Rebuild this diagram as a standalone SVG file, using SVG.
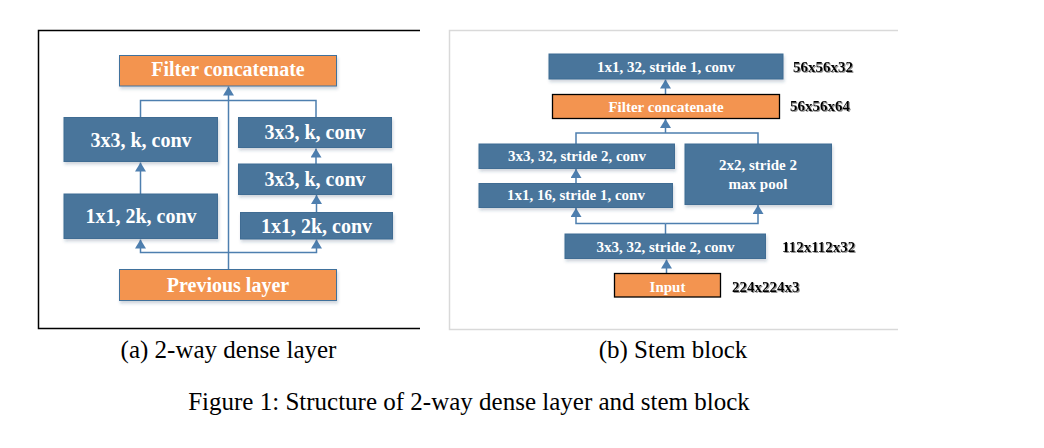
<svg xmlns="http://www.w3.org/2000/svg" width="1044" height="448" viewBox="0 0 1044 448">
<defs>
<style>
.blue{fill:#48759B;stroke:#3F6C93;stroke-width:1}
.orgA{fill:#F39450;stroke:#41719C;stroke-width:1}
.orgB{fill:#F39450;stroke:#000;stroke-width:1.3}
.bt{font-family:"Liberation Serif","Times New Roman",serif;font-weight:bold;fill:#fff;text-anchor:middle}
.l20{font-size:20px}
.s15{font-size:15px}
.lab{font-family:"Liberation Serif","Times New Roman",serif;font-weight:bold;font-size:15px;fill:#000}
.cap{font-family:"Liberation Serif","Times New Roman",serif;font-size:25px;fill:#000;text-anchor:middle}
.ln{fill:none;stroke:#4E7FAF;stroke-width:1.5}
</style>
<marker id="ah" viewBox="0 0 9 11" refX="9" refY="5.5" markerWidth="9" markerHeight="11" markerUnits="userSpaceOnUse" orient="auto">
<path d="M0,0 L9,5.5 L0,11 z" fill="#4E7FAF"/>
</marker>
<filter id="sh" x="-10%" y="-20%" width="130%" height="170%">
<feDropShadow dx="1" dy="2.5" stdDeviation="1.6" flood-color="#1F3F66" flood-opacity="0.22"/>
</filter>
<filter id="tsh" x="-10%" y="-30%" width="130%" height="170%">
<feDropShadow dx="1" dy="1" stdDeviation="0.7" flood-color="#777" flood-opacity="0.8"/>
</filter>
</defs>
<rect width="1044" height="448" fill="#fff"/>

<!-- panel frames -->
<path d="M420,30.5 H38.5 V328.5 H420" fill="none" stroke="#000" stroke-width="1.5"/>
<path d="M898,30.5 H449.5 V329.5 H898" fill="none" stroke="#D9D9D9" stroke-width="1.5"/>

<!-- connectors -->
<g id="connectors">
<line class="ln" x1="228.5" y1="269" x2="228.5" y2="86.5" marker-end="url(#ah)"/>
<path class="ln" d="M140.5,117 V100.5 H316 V117"/>
<line class="ln" x1="140.5" y1="194" x2="140.5" y2="162.5" marker-end="url(#ah)"/>
<line class="ln" x1="316" y1="164" x2="316" y2="148.5" marker-end="url(#ah)"/>
<line class="ln" x1="316.5" y1="212" x2="316.5" y2="195" marker-end="url(#ah)"/>
<path class="ln" d="M228.5,252.5 H140.5 V239.5" marker-end="url(#ah)"/>
<path class="ln" d="M228.5,252.5 H316.5 V239.5" marker-end="url(#ah)"/>

<line class="ln" x1="666.5" y1="273" x2="666.5" y2="259.5" marker-end="url(#ah)"/>
<line class="ln" x1="665.5" y1="234" x2="665.5" y2="223.5"/>
<path class="ln" d="M665.5,223.5 H576 V208" marker-end="url(#ah)"/>
<path class="ln" d="M665.5,223.5 H758 V205" marker-end="url(#ah)"/>
<line class="ln" x1="576" y1="183" x2="576" y2="169" marker-end="url(#ah)"/>
<path class="ln" d="M576,144 V133 H758 V144"/>
<line class="ln" x1="665.5" y1="133" x2="665.5" y2="119" marker-end="url(#ah)"/>
<line class="ln" x1="665.5" y1="94" x2="665.5" y2="79.5" marker-end="url(#ah)"/>
</g>

<!-- left panel nodes -->
<g id="a-concat">
<rect class="orgA" x="119.5" y="55.5" width="217" height="30.5" filter="url(#sh)"/>
<text class="bt l20" x="228" y="76">Filter concatenate</text>
</g>
<g id="a-left-3x3">
<rect class="blue" x="64" y="117.5" width="153.5" height="44" filter="url(#sh)"/>
<text class="bt l20" x="141" y="147">3x3, k, conv</text>
</g>
<g id="a-left-1x1">
<rect class="blue" x="64" y="194" width="153.5" height="44.5" filter="url(#sh)"/>
<text class="bt l20" x="141" y="223">1x1, 2k, conv</text>
</g>
<g id="a-right-3x3-top">
<rect class="blue" x="238.5" y="117.5" width="153" height="30" filter="url(#sh)"/>
<text class="bt l20" x="315" y="139">3x3, k, conv</text>
</g>
<g id="a-right-3x3-mid">
<rect class="blue" x="238.5" y="164" width="153" height="30.5" filter="url(#sh)"/>
<text class="bt l20" x="315" y="186">3x3, k, conv</text>
</g>
<g id="a-right-1x1">
<rect class="blue" x="240.5" y="212.5" width="152" height="26.5" filter="url(#sh)"/>
<text class="bt l20" x="316.5" y="232.5">1x1, 2k, conv</text>
</g>
<g id="a-prev">
<rect class="orgA" x="119.5" y="269.5" width="217" height="31" filter="url(#sh)"/>
<text class="bt l20" x="228" y="292">Previous layer</text>
</g>

<!-- right panel nodes -->
<g id="b-conv-top">
<rect class="blue" x="549" y="54" width="234" height="25" filter="url(#sh)"/>
<text class="bt s15" x="666" y="71.5">1x1, 32, stride 1, conv</text>
<text class="lab" x="793" y="72" filter="url(#tsh)">56x56x32</text>
</g>
<g id="b-concat">
<rect class="orgB" x="552.5" y="94.5" width="227" height="24"/>
<text class="bt s15" x="666" y="112">Filter concatenate</text>
<text class="lab" x="790" y="111" filter="url(#tsh)">56x56x64</text>
</g>
<g id="b-conv-3x3-left">
<rect class="blue" x="479" y="144" width="195.5" height="24.5" filter="url(#sh)"/>
<text class="bt s15" x="577" y="161">3x3, 32, stride 2, conv</text>
</g>
<g id="b-conv-1x1-left">
<rect class="blue" x="479" y="183.5" width="193.5" height="24" filter="url(#sh)"/>
<text class="bt s15" x="576" y="200">1x1, 16, stride 1, conv</text>
</g>
<g id="b-maxpool">
<rect class="blue" x="685" y="144" width="146.5" height="60.5" filter="url(#sh)"/>
<text class="bt s15" x="758" y="170">2x2, stride 2</text>
<text class="bt s15" x="758" y="188.5">max pool</text>
</g>
<g id="b-conv-stem">
<rect class="blue" x="565" y="234" width="200.5" height="24.5" filter="url(#sh)"/>
<text class="bt s15" x="665.5" y="251.5">3x3, 32, stride 2, conv</text>
<text class="lab" x="782" y="252" filter="url(#tsh)">112x112x32</text>
</g>
<g id="b-input">
<rect class="orgB" x="614.5" y="273.5" width="106" height="23.5"/>
<text class="bt s15" x="667.5" y="291.5">Input</text>
<text class="lab" x="732" y="292" filter="url(#tsh)">224x224x3</text>
</g>

<!-- captions -->
<text class="cap" x="228.5" y="358">(a) 2-way dense layer</text>
<text class="cap" x="673" y="358">(b) Stem block</text>
<text class="cap" x="469" y="410">Figure 1: Structure of 2-way dense layer and stem block</text>
</svg>
